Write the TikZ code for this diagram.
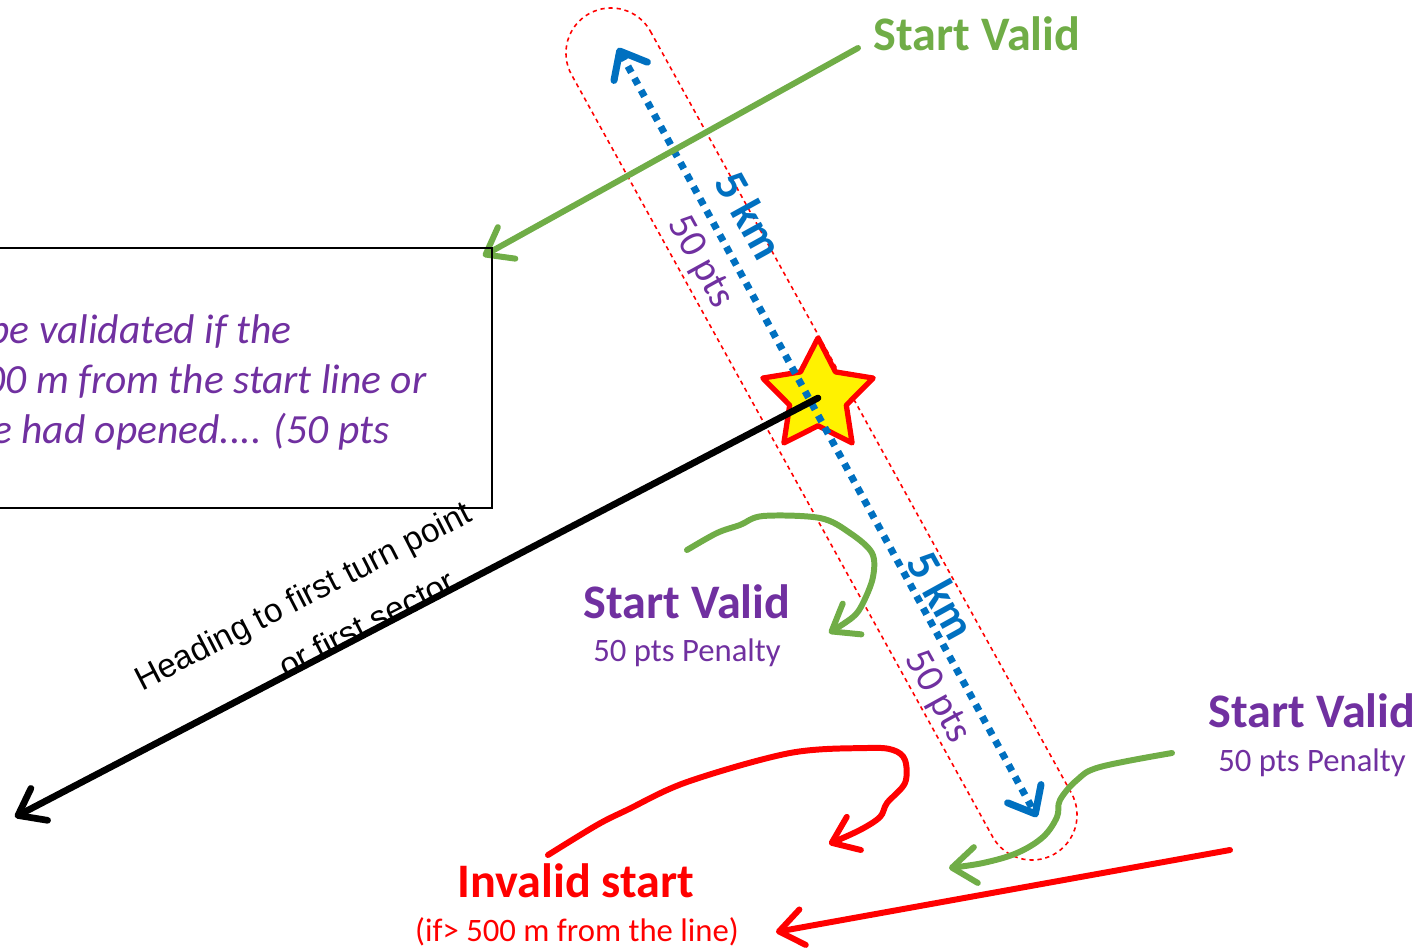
\documentclass[tikz,border=0pt]{standalone}
\usepackage{fontspec}
\setmainfont{Carlito}
\newfontfamily\arialfont{Liberation Sans}
\usetikzlibrary{arrows.meta,shapes.geometric}
\definecolor{vgreen}{RGB}{112,173,71}
\definecolor{vpurple}{RGB}{112,48,160}
\definecolor{vblue}{RGB}{0,112,192}
\definecolor{vred}{RGB}{255,0,0}
\begin{document}
\begin{tikzpicture}[x=0.01cm,y=-0.01cm,
  barb/.style={-{Straight Barb[length=2.4mm,width=3.6mm,round]}},
  gline/.style={draw=vgreen,line width=1.7pt,line cap=round,line join=round},
  rline/.style={draw=vred,line width=1.7pt,line cap=round,line join=round},
  kline/.style={draw=black,line width=1.9pt,line cap=round},
  bline/.style={draw=vblue,line width=2pt,dash pattern=on 2pt off 1.9pt},
  capsule/.style={draw=vred,line width=0.45pt,dash pattern=on 1.2pt off 1.1pt,rounded corners=4.5mm},
  title/.style={font=\bfseries\fontsize{13.7pt}{15pt}\selectfont,inner sep=0pt},
  sub/.style={font=\fontsize{9.3pt}{11pt}\selectfont,inner sep=0pt},
  boxtxt/.style={font=\itshape\fontsize{11.8pt}{14pt}\selectfont,text=vpurple,inner sep=0pt,anchor=base east},
  kmlab/.style={font=\bfseries\fontsize{13pt}{14pt}\selectfont,text=vblue,inner sep=0pt,rotate=-61.1},
  ptslab/.style={font=\fontsize{11.3pt}{13pt}\selectfont,text=vpurple,inner sep=0pt,rotate=-61.1},
  headtxt/.style={font=\arialfont\fontsize{9.5pt}{11pt}\selectfont,inner sep=0pt,rotate=27.2,anchor=base}]
\useasboundingbox (0,0) rectangle (1423,948);
\clip (0,0) rectangle (1423,948);

% capsule (start corridor)
\coordinate (c1) at (628.6,-8.2);
\coordinate (c2) at (1093.2,832.6);
\coordinate (c3) at (1014.4,876.2);
\coordinate (c4) at (549.8,35.4);
\draw[capsule] (c1) -- (c2) -- (c3) -- (c4) -- cycle;

% box text
\node[boxtxt] (t1) at (292,343) {be validated if the};
\node[boxtxt] (t2) at (427,393) {00 m from the start line or};
\node[boxtxt] (t3) at (390,443) {e had opened.... (50 pts};

% star
\node[star,star points=5,star point ratio=1.95,minimum size=1.16cm,inner sep=0pt,outer sep=0pt,
      fill=yellow,draw=vred,line width=1.5pt,line join=round] (star) at (818,396) {};

% blue dotted double arrow
\coordinate (bt) at (618,48);
\coordinate (bb) at (1037,817);
\draw[bline,{Straight Barb[length=2.3mm,width=3.8mm,round]}-{Straight Barb[length=2.3mm,width=3.8mm,round]}] (bt) -- (bb);

% black heading arrow
\coordinate (hs) at (818,398);
\coordinate (he) at (15,817);
\draw[kline,barb] (hs) -- (he);
\node[headtxt] (h1) at (308,606) {Heading to first turn point};
\node[headtxt] (h2) at (372,634) {or first sector};

% green top arrow
\coordinate (gs) at (858,48);
\coordinate (ge) at (483,256);
\draw[gline,barb] (gs) -- (ge);

% box
\coordinate (bx1) at (-10,248);
\coordinate (bx2) at (492,508);
\draw[line width=0.5pt] (bx1) rectangle (bx2);

% corridor labels
\node[kmlab] (km1) at (750,215) {5 km};
\node[ptslab] (p1) at (700,262) {50 pts};
\node[kmlab] (km2) at (942,595) {5 km};
\node[ptslab] (p2) at (937,697) {50 pts};

% green middle curve
\draw[gline,barb] plot[smooth,tension=0.55] coordinates {(687,550) (717,533) (740,525) (763,516) (820,518) (850,533) (872,553) (873,577) (863,603) (853,617) (829,633)};

% red curve
\draw[rline,barb] plot[smooth,tension=0.55] coordinates {(548,855) (597,825) (627,810) (687,782) (790,753) (867,748) (893,750) (905,760) (905,783) (887,803) (880,817) (860,830) (829,844)};

% green bottom-right curve
\draw[gline,barb] plot[smooth,tension=0.6] coordinates {(1172,753) (1100,767) (1077,780) (1060,800) (1057,817) (1043,837) (1017,853) (983,863) (949,868)};

% red straight arrow
\coordinate (rs) at (1230,850);
\coordinate (re) at (776,932);
\draw[rline,barb] (rs) -- (re);

% texts
\node[title,text=vgreen,anchor=base] (sv1) at (977,50) {Start Valid};
\node[title,text=vpurple,anchor=base] (sv2) at (687,618) {Start Valid};
\node[sub,text=vpurple,anchor=base] (pen2) at (687,661) {50 pts Penalty};
\node[title,text=vpurple,anchor=base] (sv3) at (1312,727) {Start Valid};
\node[sub,text=vpurple,anchor=base] (pen3) at (1312,771) {50 pts Penalty};
\node[title,text=vred,anchor=base] (inv) at (576,897) {Invalid start};
\node[sub,text=vred,anchor=base] (ifl) at (577,941) {(if> 500 m from the line)};
\end{tikzpicture}
\end{document}
